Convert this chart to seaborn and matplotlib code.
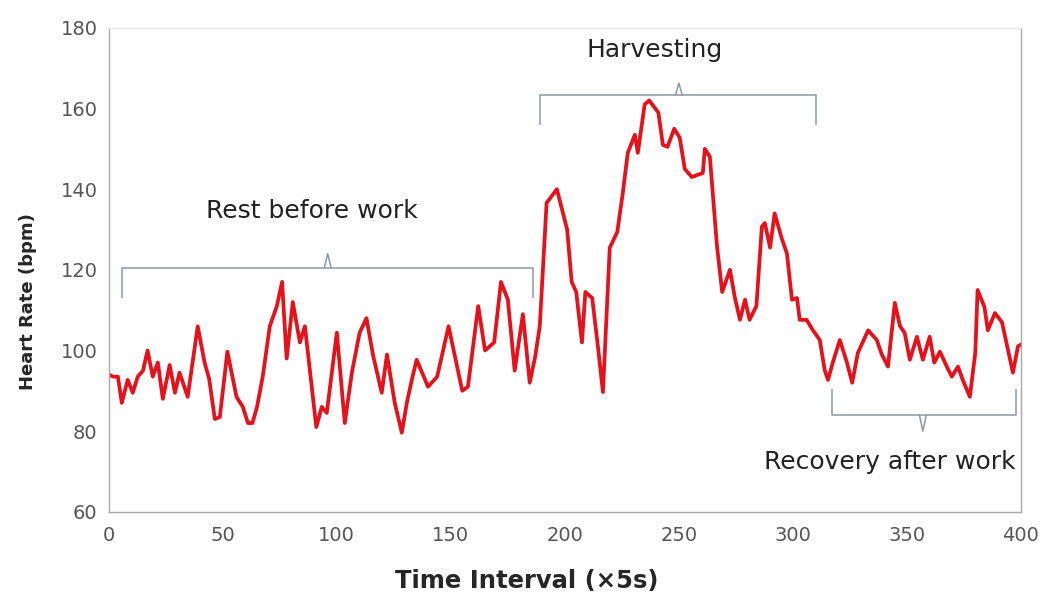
import matplotlib
matplotlib.use("Agg")
import matplotlib.pyplot as plt
import seaborn as sns
import pandas as pd

time_interval = [0, 2, 4, 5.7, 8.3, 10.5, 12.7, 15, 17, 19.3, 21.5, 23.7, 26.7, 29, 31, 34.6,
                 39, 42, 44, 46.5, 48.7, 52, 56, 58.8, 61, 63, 65, 67.5, 70.6, 73.7, 76, 78,
                 80.7, 83.8, 86, 88, 91, 93.4, 95.6, 100, 103.5, 106.6, 110, 113, 116, 119.7,
                 122, 125.4, 128.5, 130.7, 133, 135, 140, 144, 149, 155, 157.5, 162, 165, 169,
                 172, 175, 178, 181.6, 184.6, 187, 189, 192, 196.5, 201, 203, 205, 207.5, 209,
                 212, 214.5, 216.7, 219.7, 223, 225.4, 227.6, 230.7, 232, 235, 237, 241, 243,
                 245, 248, 250.4, 252.6, 255.7, 258, 260.5, 261.4, 263.6, 266.7, 269, 272.4,
                 274.6, 276.8, 279, 281, 284, 286.4, 287.7, 290, 292, 295, 297.4, 299.6, 301.8,
                 303, 306, 308.8, 311.8, 314, 315.4, 317.5, 320.6, 323.7, 326, 328.5, 333,
                 336.8, 339, 341.7, 344.7, 347, 349, 351.3, 354.4, 357, 360, 362, 364.5, 367.5,
                 369.7, 372.4, 374.5, 377.6, 380, 381, 384, 385.5, 388.6, 391.7, 394, 396.5,
                 398.7, 400]
heart_rate = [94, 93.5, 93.5, 87, 92.7, 89.5, 93.5, 95, 100, 93.5, 97, 88, 96.4, 89.5, 94.5, 88.5,
              106, 97, 93, 83, 83.5, 99.7, 88.5, 86, 82, 82, 86, 93.5, 106, 111, 117, 98,
              112, 102, 106, 96, 81, 86, 84.5, 104.4, 82, 94.5, 104.4, 108, 98.5, 89.5,
              99, 87, 79.6, 87, 93, 97.7, 91, 93.5, 106, 90, 91, 111, 100, 102,
              117, 112.6, 95, 109, 92, 98.5, 106, 136.6, 140, 130, 117, 114.5, 102, 114.5,
              113, 101, 89.7, 125.5, 129.4, 139, 149, 153.5, 149, 161, 162, 159, 151,
              150.5, 155, 152.7, 145, 143, 143.5, 144, 150, 148, 126, 114.5, 120,
              113, 107.6, 112.6, 107.6, 111, 130.7, 131.6, 125.5, 134, 128, 124, 112.6, 113,
              107.6, 107.6, 105, 102.6, 95, 92.7, 97, 102.6, 97, 92, 99.4, 105,
              102.6, 99, 96, 111.8, 106, 104.4, 97.7, 103.4, 97.7, 103.4, 97, 99.7, 96,
              93.5, 96, 92.7, 88.5, 99.4, 115, 110.8, 105, 109.3, 107, 101, 94.5,
              101, 101.5]

phase_labels = ["Rest before work", "Harvesting", "Recovery after work"]
phase_start = [6, 189, 317]
phase_end = [186, 310, 398]

df = pd.DataFrame({"t": time_interval, "hr": heart_rate})

sns.set_style("white")
plt.rcParams["font.family"] = ["DejaVu Sans"]

fig = plt.figure(figsize=(10.46, 5.93), dpi=100)
ax = fig.add_axes([0.104, 0.137, 0.872, 0.816])

sns.lineplot(data=df, x="t", y="hr", ax=ax, color="#e8101a", linewidth=2.7)

ax.set_xlim(0, 400)
ax.set_ylim(60, 180)
ax.set_xticks(range(0, 401, 50))
ax.set_yticks(range(60, 181, 20))
ax.tick_params(direction="in", length=4, color="#9a9a9a", labelsize=14,
               labelcolor="#555555")
ax.tick_params(axis="x", pad=10)
ax.tick_params(axis="y", pad=8)
for s in ax.spines.values():
    s.set_color("#a8a8a8")
    s.set_linewidth(1.0)
ax.spines["top"].set_color("#e6e6e6")

ax.set_xlabel("Time Interval (×5s)", fontsize=17.5, fontweight="bold")
ax.set_ylabel("Heart Rate (bpm)", fontsize=13, fontweight="bold")
ax.xaxis.set_label_coords(0.458, -0.118)
ax.yaxis.set_label_coords(-0.079, 0.434)

bc = "#8b99a6"

def bracket(x0, x1, y, dy_end, dy_mid, xm):
    ax.plot([x0, x0, x1, x1], [y + dy_end, y, y, y + dy_end], color=bc, lw=1.1, solid_capstyle="butt")
    ax.plot([xm - 1.5, xm, xm + 1.5], [y, y + dy_mid, y], color=bc, lw=1.1)

bracket(phase_start[0], phase_end[0], 120.5, -7.5, 3.5, 96)
bracket(phase_start[1], phase_end[1], 163.3, -7.5, 3.0, 250)
bracket(phase_start[2], phase_end[2], 84.0, 6.5, -4.0, 357)

ax.text(89, 134.5, phase_labels[0], fontsize=18, ha="center", va="center", color="#222222")
ax.text(239.5, 174.5, phase_labels[1], fontsize=18, ha="center", va="center", color="#222222")
ax.text(342.5, 72.3, phase_labels[2], fontsize=18, ha="center", va="center", color="#222222")

fig.savefig("out.png", dpi=100)
